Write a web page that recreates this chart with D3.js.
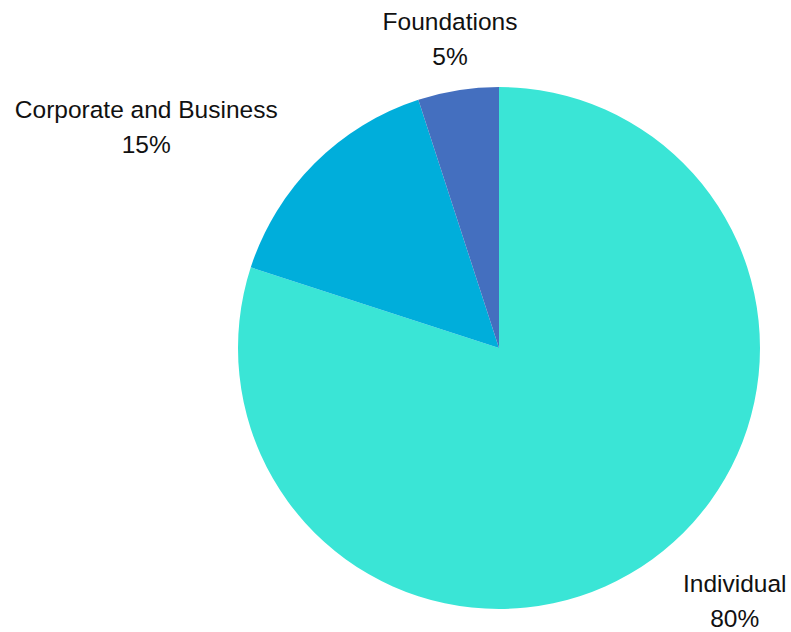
<!DOCTYPE html>
<html>
<head>
<meta charset="utf-8">
<script src="https://cdn.jsdelivr.net/npm/d3@7"></script>
<style>
  body { margin: 0; background: #fff; }
  svg { display: block; }
  text { font-family: "Liberation Sans", Arial, sans-serif; font-size: 24.5px; fill: #111; }
</style>
</head>
<body>
<svg id="chart"></svg>
<script>
// chart data
const categories = ["Individual", "Corporate and Business", "Foundations"];
const shares = [80, 15, 5];
const colors = ["#3ae5d6", "#00aedb", "#446fbf"];

const width = 791;
const height = 632;
const cx = 499;
const cy = 348;
const radius = 261;
const labelRadius = 313;

const svg = d3.select("#chart").attr("width", width).attr("height", height);

const data = categories.map((c, i) => ({ name: c, value: shares[i], color: colors[i] }));

const pie = d3.pie().value((d) => d.value).sort(null);
const arc = d3.arc().innerRadius(0).outerRadius(radius);
const labelArc = d3.arc().innerRadius(labelRadius).outerRadius(labelRadius);

const g = svg.append("g").attr("transform", `translate(${cx},${cy})`);
const arcs = pie(data);

g.selectAll("path")
  .data(arcs)
  .join("path")
  .attr("d", arc)
  .attr("fill", (d) => d.data.color);

// labels: name on the first line, percent below
const labels = g.selectAll("text")
  .data(arcs)
  .join("text")
  .attr("text-anchor", (d) => {
    const s = Math.sin((d.startAngle + d.endAngle) / 2);
    return s > 0.3 ? "start" : s < -0.3 ? "end" : "middle";
  })
  .attr("transform", (d) => {
    const [x, y] = labelArc.centroid(d);
    return `translate(${x},${y})`;
  });

labels.each(function (d) {
  const t = d3.select(this);
  const a = t.attr("text-anchor");
  // percent line is centered under the name
  t.append("tspan").attr("x", 0).attr("y", -9).text(d.data.name);
  const nameW = this.getComputedTextLength();
  const off = a === "start" ? nameW / 2 : a === "end" ? -nameW / 2 : 0;
  t.append("tspan")
    .attr("x", off)
    .attr("y", 26)
    .attr("text-anchor", "middle")
    .text(d.data.value + "%");
});
</script>
</body>
</html>
